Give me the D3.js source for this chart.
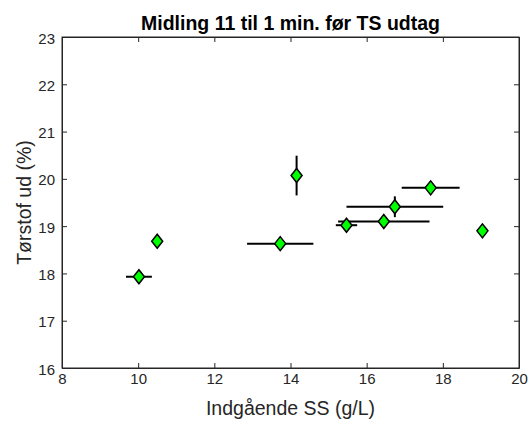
<!DOCTYPE html>
<html>
<head>
<meta charset="utf-8">
<script src="https://cdn.jsdelivr.net/npm/d3@7"></script>
<style>
html,body{margin:0;padding:0;background:#fff;}
svg{display:block;font-family:"Liberation Sans",Arial,sans-serif;}
</style>
</head>
<body>
<svg id="chart" width="531" height="423"></svg>
<script>
const xValues = [10.02, 10.50, 13.73, 14.16, 15.47, 16.45, 16.74, 17.68, 19.04];
const yValues = [17.93, 18.68, 18.63, 20.07, 19.02, 19.10, 19.41, 19.81, 18.90];
const xErr    = [0.34, 0, 0.87, 0, 0.28, 1.20, 1.27, 0.76, 0];
const yErr    = [0, 0, 0, 0.42, 0, 0, 0.22, 0, 0];
const xTicks = [8, 10, 12, 14, 16, 18, 20];
const yTicks = [16, 17, 18, 19, 20, 21, 22, 23];
const titleText = "Midling 11 til 1 min. før TS udtag";
const xLabel = "Indgående SS (g/L)";
const yLabel = "Tørstof ud (%)";

const svg = d3.select("#chart");
const m = {left: 62, right: 519, top: 37, bottom: 368};
const x = d3.scaleLinear().domain([8, 20]).range([m.left, m.right]);
const y = d3.scaleLinear().domain([16, 23]).range([m.bottom, m.top]);
const axisColor = "#262626";

// box
svg.append("rect").attr("x", m.left).attr("y", m.top)
  .attr("width", m.right - m.left).attr("height", m.bottom - m.top)
  .attr("fill", "none").attr("stroke", axisColor).attr("stroke-width", 1);

const tl = 5;
const fmt = d3.format("d");
// axes
const gx = svg.append("g").attr("transform", `translate(0,${m.bottom})`)
  .call(d3.axisBottom(x).tickValues(xTicks).tickFormat(fmt).tickSizeInner(-tl).tickSizeOuter(0).tickPadding(5));
const gxt = svg.append("g").attr("transform", `translate(0,${m.top})`)
  .call(d3.axisTop(x).tickValues(xTicks).tickSizeInner(-tl).tickSizeOuter(0).tickFormat(""));
const gy = svg.append("g").attr("transform", `translate(${m.left},0)`)
  .call(d3.axisLeft(y).tickValues(yTicks).tickFormat(fmt).tickSizeInner(-tl).tickSizeOuter(0).tickPadding(7));
const gyr = svg.append("g").attr("transform", `translate(${m.right},0)`)
  .call(d3.axisRight(y).tickValues(yTicks).tickSizeInner(-tl).tickSizeOuter(0).tickFormat(""));
[gx, gxt, gy, gyr].forEach(g => {
  g.select(".domain").attr("stroke", axisColor);
  g.selectAll(".tick line").attr("stroke", axisColor);
  g.selectAll(".tick text").attr("fill", axisColor).style("font-size", "15px").style("font-family", "Liberation Sans, Arial, sans-serif");
});
gy.selectAll(".tick text").attr("dy", "0.4em");

// labels
svg.append("text").attr("x", (m.left + m.right) / 2).attr("y", 30)
  .attr("text-anchor", "middle").style("font-size", "19.5px").style("font-weight", "bold")
  .attr("fill", "#000").text(titleText);
svg.append("text").attr("x", (m.left + m.right) / 2).attr("y", 415)
  .attr("text-anchor", "middle").style("font-size", "19.5px").attr("fill", axisColor).text(xLabel);
svg.append("text").attr("transform", `translate(31,${(m.top + m.bottom) / 2}) rotate(-90)`)
  .attr("text-anchor", "middle").style("font-size", "19.5px").attr("fill", axisColor).text(yLabel);

const data = xValues.map((v, i) => ({x: v, y: yValues[i], ex: xErr[i], ey: yErr[i]}));

// error bars
const eb = svg.append("g").attr("stroke", "#000").attr("stroke-width", 2);
data.filter(d => d.ex > 0).forEach(d => {
  eb.append("line").attr("x1", x(d.x - d.ex)).attr("x2", x(d.x + d.ex))
    .attr("y1", y(d.y)).attr("y2", y(d.y));
});
data.filter(d => d.ey > 0).forEach(d => {
  eb.append("line").attr("x1", x(d.x)).attr("x2", x(d.x))
    .attr("y1", y(d.y - d.ey)).attr("y2", y(d.y + d.ey));
});

// markers
const hw = 5.5, hh = 7;
svg.append("g").selectAll("path").data(data).join("path")
  .attr("d", d => {
    const cx = x(d.x), cy = y(d.y);
    return `M${cx},${cy - hh}L${cx + hw},${cy}L${cx},${cy + hh}L${cx - hw},${cy}Z`;
  })
  .attr("fill", "#00ff00").attr("stroke", "#000").attr("stroke-width", 1.5);
</script>
</body>
</html>
